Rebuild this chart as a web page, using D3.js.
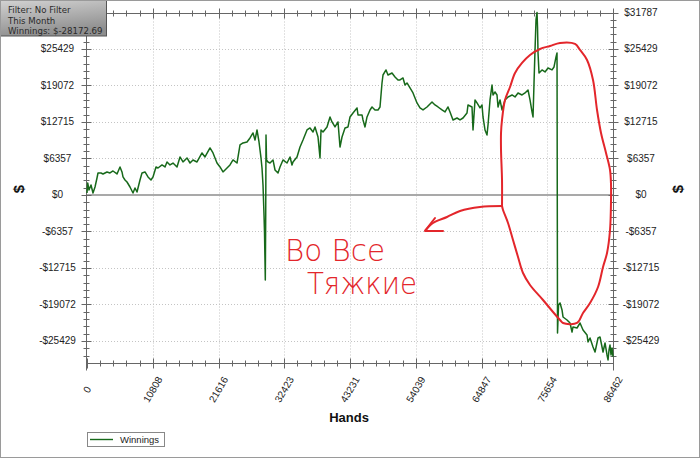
<!DOCTYPE html>
<html><head><meta charset="utf-8">
<script src="https://cdn.jsdelivr.net/npm/d3@7"></script>
<style>body{margin:0;background:#fff}svg{display:block}</style>
</head><body><svg id="c" width="700" height="458"></svg>
<script>
// ---------------- data ----------------
const hands = [0,115,329,658,986,1315,1644,1808,2301,2630,3288,3781,4274,4932,5425,5753,5918,6246,6575,7068,7561,7890,8219,8712,9041,9534,10027,10520,10849,11342,11671,12329,12822,13150,13644,14137,14794,15287,15780,16438,16931,17424,18082,18904,19397,20219,20712,21369,21863,22356,23013,23506,24000,24657,25150,25643,26301,26794,27287,27616,27945,28274,28602,28767,28931,29096,29178,29310,29376,29425,29507,29753,30082,30575,30904,31397,31725,32219,32876,33369,33698,33862,34520,35013,35506,36164,36657,37150,37479,37972,38301,38466,38794,39451,39945,40273,40766,41259,41588,41917,42410,42903,43232,43725,44383,44547,45205,45369,45698,46027,46520,46848,47341,47835,48163,48492,48656,49150,49478,50136,50629,51122,51451,51944,52273,52602,53095,53588,54245,54739,55232,55889,56711,57204,57697,58355,58848,59341,59670,60163,60821,61314,61807,62464,62629,63286,63451,63780,64108,64601,64930,65095,65424,65752,65917,66246,66575,66739,67068,67397,67561,67890,68219,68712,69205,69863,70356,70849,71507,72000,72493,72821,73150,73315,73479,73644,73808,73972,74055,74137,74301,74794,75287,75780,76438,76767,77096,77260,77342,77507,77753,78082,78246,78904,79397,79726,79890,80548,81041,81534,82192,82356,82685,83178,83507,84000,84329,84658,84822,85151,85479,85644,85808,85972,86137,86301,86462];
const winnings = [350,2090,870,1740,350,1390,2960,3830,3830,3660,4010,3830,4180,3660,4880,4010,3140,2610,2260,1390,350,1220,520,2610,3830,4010,3140,2610,3140,4880,4700,5230,4880,5750,5230,5570,4880,6620,5750,6450,5570,6100,5750,7320,6620,8190,7320,5570,4880,4010,4700,5230,6100,5570,8710,9060,9230,9930,10800,9580,11320,9230,6450,4700,1740,-3480,-6450,-14810,-3480,10450,6100,5750,5570,6100,4350,3830,4880,6100,5570,6620,5230,5750,6620,8360,9580,11320,11670,10970,11850,10100,6450,11320,10970,11850,13590,12720,11850,12720,8360,10100,11670,11850,13590,14280,15160,13940,13940,13070,11850,13590,14810,15330,14810,14810,15330,19510,20900,21780,20900,21250,20560,20030,20030,20380,19160,19510,18640,17770,16030,15160,14810,15330,16200,15680,15330,14810,14460,15330,14460,13070,13410,13070,13410,14280,15680,15330,11320,16550,16030,15160,15680,13590,11320,10450,12190,16550,19160,17420,17940,17420,15330,16550,14810,16550,17070,17420,17070,17770,17420,17770,18290,16550,14460,13590,19510,25260,30490,31787,29270,24740,21250,21780,21430,22120,21780,22300,24040,24740,-24040,-19160,-18810,-20030,-21250,-21780,-22300,-23870,-22990,-23170,-22300,-23520,-24390,-25610,-24910,-26480,-27350,-24910,-24740,-26480,-27350,-25780,-27870,-28740,-27000,-26130,-27870,-26650,-28172.69];

const seriesName = "Winnings";
const xTitle = "Hands";
const yTitle = "$";
const xTicks = [0,10808,21616,32423,43231,54039,64847,75654,86462];
const xTickLabels = ["0","10808","21616","32423","43231","54039","64847","75654","86462"];
const yTicks = [-25429.6,-19072.2,-12714.8,-6357.4,0,6357.4,12714.8,19072.2,25429.6,31787];
const yTickLabels = ["-$25429","-$19072","-$12715","-$6357","$0","$6357","$12715","$19072","$25429","$31787"];
const xDomain = [0, 86462];
const yDomain = [-29180, 31787];
const infoLines = ["Filter: No Filter","This Month","Winnings: $-28172.69"];

// hand-drawn red annotation (in data units)
const loopHands = [68219,68219,68055,68055,68219,68712,69534,70356,71507,72821,74466,76110,77754,80219,81041,82192,83178,83836,84493,85315,85973,86137,86137,85973,85480,84822,84000,82685,81534,80548,78247,77754,76603,74959,72822,71671,70849,70027,69205,68384,68219];
const loopDollars = [-1916,2613,7839,10800,13065,16549,18814,21252,22994,24388,25433,25956,26478,26304,25259,23517,20033,14807,10800,7316,4355,1742,-871,-6097,-10103,-12542,-16026,-18814,-20556,-22298,-22298,-21775,-20381,-18291,-15678,-13588,-10800,-7839,-4878,-2613,-1916];
const arrowHands = [68219,64601,61314,59177,56876,55561];
const arrowDollars = [-1916,-2090,-2787,-3832,-4878,-6271];
const headHands = [57204,55561,58519];
const headDollars = [-4007,-6271,-6271];
const noteLines = ["Во Все","Тяжкие"];
const noteHands = [32550,36160];
const noteDollars = [-11500,-17250];

// ---------------- drawing ----------------
const svg = d3.select("#c");
const L = 87, R = 613, T = 12.5, B = 362.5;
const x = d3.scaleLinear().domain(xDomain).range([L, R]);
const y = d3.scaleLinear().domain(yDomain).range([B, T]);

svg.append("rect").attr("x",0).attr("y",0).attr("width",700).attr("height",458).attr("fill","#fff");

// grid
const grid = svg.append("g").attr("stroke","#c4c4c4").attr("stroke-width",1).attr("stroke-dasharray","1,2");
grid.selectAll("line.gx").data(xTicks.slice(1,-1)).join("line")
  .attr("x1",d=>Math.round(x(d))+0.5).attr("x2",d=>Math.round(x(d))+0.5).attr("y1",T).attr("y2",B);
grid.selectAll("line.gy").data(yTicks.filter(v=>v!==0 && v<31787)).join("line")
  .attr("y1",d=>Math.round(y(d))+0.5).attr("y2",d=>Math.round(y(d))+0.5).attr("x1",L).attr("x2",R);

// zero line
svg.append("line").attr("x1",L).attr("x2",R).attr("y1",y(0)).attr("y2",y(0))
  .attr("stroke","#a9a9a9").attr("stroke-width",2);

// axes lines
const ax = svg.append("g").attr("stroke","#666").attr("stroke-width",1).attr("fill","none");
ax.append("line").attr("x1",L-0.5).attr("x2",L-0.5).attr("y1",T).attr("y2",B+8);
ax.append("line").attr("x1",R+0.5).attr("x2",R+0.5).attr("y1",T).attr("y2",B+8);
ax.append("line").attr("x1",L).attr("x2",R).attr("y1",Math.round(B)+0.5).attr("y2",Math.round(B)+0.5);
ax.append("line").attr("x1",L).attr("x2",R).attr("y1",Math.round(T)+0.5).attr("y2",Math.round(T)+0.5);

// minor ticks
const minorY = d3.range(-22, 26).map(k => k*31787/25);
const minorX = d3.range(0, 41).map(k => k*86462/40);
[L-0.5, R+0.5].forEach(ax0 => {
  ax.selectAll(null).data(minorY).join("line")
    .attr("x1",ax0-3).attr("x2",ax0+3)
    .attr("y1",d=>Math.round(y(d))+0.5).attr("y2",d=>Math.round(y(d))+0.5);
  ax.selectAll(null).data(yTicks).join("line")
    .attr("x1",ax0-5).attr("x2",ax0+5)
    .attr("y1",d=>Math.round(y(d))+0.5).attr("y2",d=>Math.round(y(d))+0.5);
});
[Math.round(T)+0.5, Math.round(B)+0.5].forEach(ay => {
  ax.selectAll(null).data(minorX).join("line")
    .attr("y1",ay-3).attr("y2",ay+3)
    .attr("x1",d=>Math.round(x(d))+0.5).attr("x2",d=>Math.round(x(d))+0.5);
  ax.selectAll(null).data(xTicks).join("line")
    .attr("y1",ay-5).attr("y2",ay+5)
    .attr("x1",d=>Math.round(x(d))+0.5).attr("x2",d=>Math.round(x(d))+0.5);
});

// tick labels (left top label is hidden under the info box in the reference)
const font = "'Liberation Sans', Arial, sans-serif";
const yl = svg.append("g").attr("font-family",font).attr("font-size",10).attr("fill","#222")
  .attr("text-anchor","middle").attr("dominant-baseline","central");
yTicks.forEach((v,i) => {
  if (v < 31787) yl.append("text").attr("x",57.5).attr("y",y(v)).text(yTickLabels[i]);
  yl.append("text").attr("x",641).attr("y",y(v)).text(yTickLabels[i]);
});
const xl = svg.append("g").attr("font-family",font).attr("font-size",10).attr("fill","#222");
xTicks.forEach((v,i) => {
  xl.append("text").attr("text-anchor","middle").attr("dominant-baseline","central")
    .attr("transform",`translate(${x(v)},389.5) rotate(-60)`).text(xTickLabels[i]);
});

// axis titles
svg.append("text").attr("font-family",font).attr("font-weight","bold").attr("font-size",13)
  .attr("text-anchor","middle").attr("x",349).attr("y",422).attr("fill","#111").text(xTitle);
svg.append("text").attr("font-family",font).attr("font-weight","bold").attr("font-size",15)
  .attr("text-anchor","middle").attr("dominant-baseline","central")
  .attr("transform","translate(18,189) rotate(-90)").attr("fill","#111").text(yTitle);
svg.append("text").attr("font-family",font).attr("font-weight","bold").attr("font-size",15)
  .attr("text-anchor","middle").attr("dominant-baseline","central")
  .attr("transform","translate(677,189) rotate(-90)").attr("fill","#111").text(yTitle);

// series line
const pts = hands.map((h,i)=>[h, winnings[i]]);
svg.append("path").datum(pts)
  .attr("d", d3.line().x(d=>x(d[0])).y(d=>y(d[1])))
  .attr("fill","none").attr("stroke","#17691a").attr("stroke-width",1.5).attr("stroke-linejoin","round");

// red annotation
const red = "#e3262b";
const rl = d3.line().curve(d3.curveCatmullRom).x(d=>x(d[0])).y(d=>y(d[1]));
svg.append("path").datum(loopHands.map((h,i)=>[h,loopDollars[i]]))
  .attr("d", rl).attr("fill","none").attr("stroke",red).attr("stroke-width",2);
svg.append("path").datum(arrowHands.map((h,i)=>[h,arrowDollars[i]]))
  .attr("d", rl).attr("fill","none").attr("stroke",red).attr("stroke-width",2);
svg.append("path").datum(headHands.map((h,i)=>[h,headDollars[i]]))
  .attr("d", d3.line().x(d=>x(d[0])).y(d=>y(d[1]))).attr("fill","none").attr("stroke",red).attr("stroke-width",2).attr("stroke-linecap","round").attr("stroke-linejoin","round");
noteLines.forEach((t,i) => {
  svg.append("text").attr("x",x(noteHands[i])).attr("y",y(noteDollars[i]))
    .attr("font-family","'DejaVu Sans', sans-serif").attr("font-weight","200").attr("font-size",30)
    .attr("textLength", i===0 ? 100 : 110).attr("lengthAdjust","spacingAndGlyphs")
    .attr("fill",red).text(t);
});

// legend
svg.append("rect").attr("x",87.5).attr("y",432.5).attr("width",77).attr("height",14)
  .attr("fill","#fff").attr("stroke","#888");
svg.append("line").attr("x1",90).attr("x2",113).attr("y1",439.5).attr("y2",439.5)
  .attr("stroke","#17691a").attr("stroke-width",1.4);
svg.append("text").attr("x",120).attr("y",439.5).attr("dominant-baseline","central")
  .attr("font-family",font).attr("font-size",9.5).attr("fill","#222").text(seriesName);

// info box
const defs = svg.append("defs");
const gr = defs.append("linearGradient").attr("id","ib").attr("x1",0).attr("y1",0).attr("x2",0.3).attr("y2",1);
gr.append("stop").attr("offset","0%").attr("stop-color","#d2d2d2");
gr.append("stop").attr("offset","100%").attr("stop-color","#8e8e8e");
svg.append("rect").attr("x",0.5).attr("y",0.5).attr("width",106).attr("height",35.5)
  .attr("fill","url(#ib)").attr("stroke","#555");
infoLines.forEach((t,i) => {
  svg.append("text").attr("x",8).attr("y",10+i*10.6).attr("dominant-baseline","central")
    .attr("font-family","'DejaVu Sans', Verdana, sans-serif").attr("font-size",8.6)
    .attr("fill","#2a2a2a").text(t);
});

// frame
svg.append("rect").attr("x",0.5).attr("y",0.5).attr("width",699).attr("height",457)
  .attr("fill","none").attr("stroke","#9a9a9a");
</script></body></html>
